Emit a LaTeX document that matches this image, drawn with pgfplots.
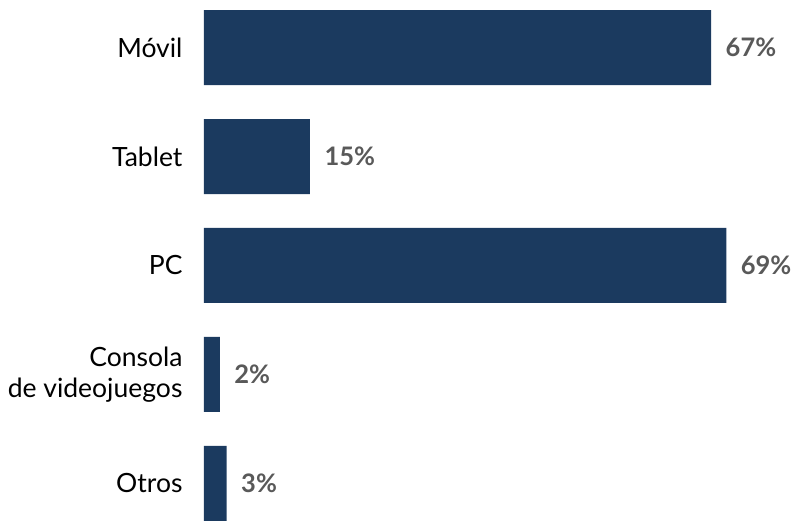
\documentclass[border=0pt]{standalone}
\usepackage{pgfplots}
\pgfplotsset{compat=1.18}
\usepackage{fontspec}
\setmainfont{Lato}
\definecolor{barblue}{HTML}{1B3A5F}
\definecolor{lblgray}{HTML}{595959}
\begin{document}
\begin{tikzpicture}[x=1pt,y=1pt]
\begin{axis}[
  at={(204pt,0pt)}, anchor=south west,
  scale only axis, width=594pt, height=518pt,
  xbar, bar width=75pt, bar shift=0pt,
  xmin=0, xmax=78.47,
  ymin=-0.436, ymax=4.317, y dir=reverse,
  axis line style={draw=none},
  xtick=\empty,
  ytick={0,1,2,3,4},
  yticklabels={Móvil, Tablet, PC, {Consola\\de videojuegos}, Otros},
  yticklabel style={align=right, font=\fontsize{26.5}{31}\selectfont, text=black, xshift=-18pt},
  major tick length=0pt,
  ytick style={draw=none},
  clip=false,
  /pgf/number format/assume math mode=true,
  nodes near coords={\pgfmathprintnumber{\pgfplotspointmeta}\%},
  point meta=explicit,
  every node near coord/.append style={font=\fontsize{25.5}{28}\selectfont\bfseries, text=lblgray, anchor=west, xshift=11pt},
]
\addplot[fill=barblue, draw=none] coordinates {(67,0) [67] (14,1) [15] (69,2) [69] (2.1,3) [2] (3,4) [3]};
\end{axis}
\path (0pt,0pt) rectangle (798pt,518pt);
\end{tikzpicture}
\end{document}
